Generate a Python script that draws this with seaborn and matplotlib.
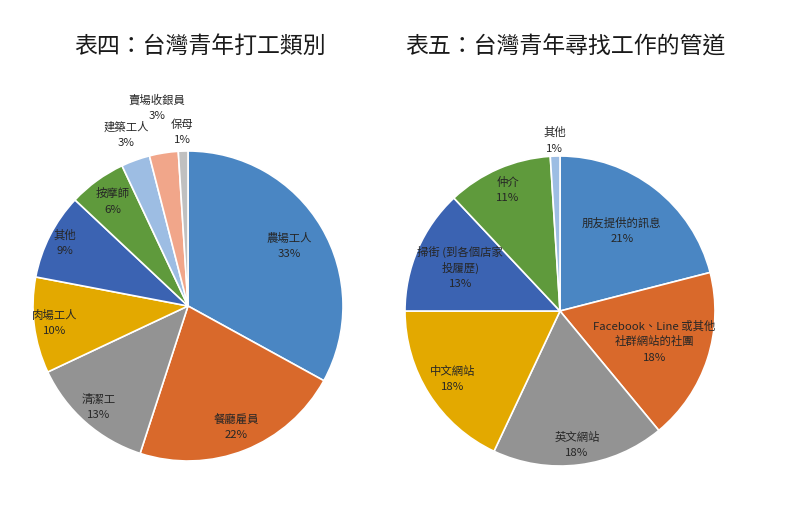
import matplotlib
matplotlib.use("Agg")
import numpy as np
import seaborn as sns
import matplotlib.pyplot as plt

# Data
left_title = "表四：台灣青年打工類別"
left_labels = ["農場工人", "餐廳雇員", "清潔工", "肉場工人", "其他", "按摩師", "建築工人", "賣場收銀員", "保母"]
left_values = [33, 22, 13, 10, 9, 6, 3, 3, 1]

right_title = "表五：台灣青年尋找工作的管道"
right_labels = ["朋友提供的訊息", "Facebook、Line 或其他\n社群網站的社團", "英文網站", "中文網站",
                "掃街 (到各個店家\n投履歷)", "仲介", "其他"]
right_values = [21, 18, 18, 18, 13, 11, 1]

# Colours (Office-like palette)
left_colors = ["#4a86c3", "#d9692b", "#939393", "#e3a900", "#3b63b2", "#5f9a3c",
               "#9dbde3", "#f1a68a", "#c0c0c0"]
right_colors = ["#4a86c3", "#d9692b", "#939393", "#e3a900", "#3b63b2", "#5f9a3c", "#9dbde3"]

# label distance (fraction of radius) per slice
left_dist = [0.76, 0.84, 0.87, 0.87, 0.89, 0.83, 1.17, 1.29, 1.12]
right_dist = [0.65, 0.64, 0.87, 0.82, 0.70, 0.85, 1.10]

LINE_PT = 11.5  # line pitch of the slice labels, in points

sns.set_theme(style="white")
plt.rcParams['font.family'] = ['Noto Sans CJK TC', 'DejaVu Sans']


def draw_pie(ax, values, labels, colors, dists):
    wedges, _ = ax.pie(values, colors=colors, startangle=90, counterclock=False,
                       radius=1.0, wedgeprops=dict(edgecolor="white", linewidth=1.2))
    total = sum(values)
    for w, lab, v, d in zip(wedges, labels, values, dists):
        ang = np.deg2rad((w.theta1 + w.theta2) / 2)
        x, y = d * np.cos(ang), d * np.sin(ang)
        lines = lab.split("\n") + [f"{round(100 * v / total)}%"]
        n = len(lines) - 1
        # each line drawn on its own, block centred on the anchor
        for i, line in enumerate(lines):
            ax.annotate(line, (x, y), xytext=(0, (n / 2 - i) * LINE_PT), textcoords="offset points",
                        ha="center", va="center", fontsize=8.2, color="#262626",
                        annotation_clip=False)
    ax.set_xlim(-1, 1)
    ax.set_ylim(-1, 1)
    ax.set_aspect("equal")
    ax.axis("off")


fig = plt.figure(figsize=(8, 5.12), dpi=100)
ax1 = fig.add_axes([0.04125, 0.0996, 0.3875, 0.6055])
ax2 = fig.add_axes([0.50625, 0.0898, 0.3875, 0.6055])

draw_pie(ax1, left_values, left_labels, left_colors, left_dist)
draw_pie(ax2, right_values, right_labels, right_colors, right_dist)

fig.text(0.25, 0.908, left_title, ha="center", va="center", fontsize=16.5, color="#1a1a1a")
fig.text(0.706, 0.908, right_title, ha="center", va="center", fontsize=16.5, color="#1a1a1a")

fig.savefig("out.png", dpi=100)
